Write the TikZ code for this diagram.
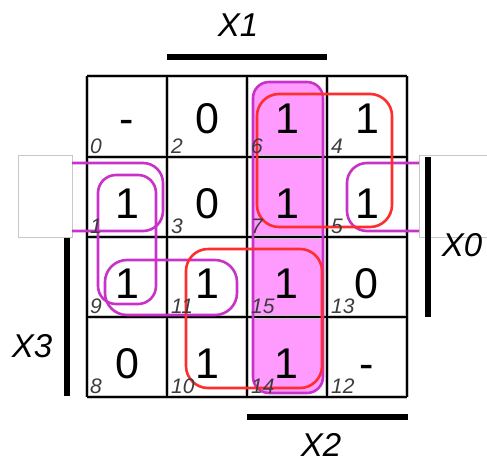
\documentclass[tikz,border=0pt]{standalone}
\usepackage{fontspec}
\setmainfont{Liberation Sans}
\definecolor{magline}{RGB}{200,50,200}
\definecolor{magfill}{RGB}{255,155,255}
\definecolor{redline}{RGB}{255,45,45}
\definecolor{idxgray}{RGB}{60,60,60}
\definecolor{boxgray}{RGB}{200,200,200}
\begin{document}
\begin{tikzpicture}[x=1pt,y=-1pt,
  digit/.style={font=\fontsize{43}{43}\selectfont, inner sep=0pt, anchor=base},
  idx/.style={font=\fontsize{21}{21}\selectfont\itshape, text=idxgray, inner sep=0pt, anchor=base west},
  lbl/.style={font=\fontsize{33}{33}\selectfont\itshape, inner sep=0pt},
  bar/.style={line width=5.5pt},
  gridshade/.style={line width=3.2pt, gray!45},
  gridline/.style={line width=1.3pt, black},
  maggrp/.style={line width=2.6pt, magline},
  redgrp/.style={line width=2.6pt, redline},
  wrapbox/.style={line width=0.9pt, boxgray}]
\useasboundingbox (0,0) rectangle (487,464);
% filled column group
\fill[magfill, rounded corners=16pt] (253,82) rectangle (323,393);
% wrap-around boxes
\draw[wrapbox] (18,155) rectangle (72,237);
\draw[wrapbox] (490,155) -- (419,155) -- (419,237) -- (490,237);
% grid
\foreach \x in {87,167,247,327,407} \draw[gridshade] (\x,76) -- (\x,397);
\foreach \y in {76,157,237,317,397} \draw[gridshade] (87,\y) -- (407,\y);
\foreach \x in {87,167,247,327,407} \draw[gridline] (\x,76) -- (\x,397);
\foreach \y in {76,157,237,317,397} \draw[gridline] (87,\y) -- (407,\y);
% magenta groups
\draw[maggrp, rounded corners=16pt] (253,82) rectangle (323,393);
\draw[maggrp, rounded corners=18pt] (98,175) rectangle (156,304);
\draw[maggrp, rounded corners=22pt] (105,260) rectangle (237,315);
\draw[maggrp, rounded corners=20pt] (72,163) -- (163,163) -- (163,231) -- (72,231);
\draw[maggrp, rounded corners=20pt] (419,163) -- (347,163) -- (347,231) -- (419,231);
% red groups
\draw[redgrp, rounded corners=22pt] (257,94) rectangle (392,227);
\draw[redgrp, rounded corners=22pt] (186,249) rectangle (322,388);
% variable bars
\draw[bar] (167,57) -- (327,57);
\draw[bar] (247,417) -- (408,417);
\draw[bar] (428,157) -- (428,317);
\draw[bar] (67,238) -- (67,396);
\node[lbl] (x1) at (238,25) {X1};
\node[lbl] (x0) at (462,245) {X0};
\node[lbl] (x2) at (321,445) {X2};
\node[lbl] (x3) at (32,346) {X3};
% cell values
\node[digit] (v0) at (127,133) {-};
\node[digit] (v2) at (207,133) {0};
\node[digit] (v6) at (287,133) {1};
\node[digit] (v4) at (367,133) {1};
\node[digit] (v1) at (127,218) {1};
\node[digit] (v3) at (207,218) {0};
\node[digit] (v7) at (287,218) {1};
\node[digit] (v5) at (367,218) {1};
\node[digit] (v9) at (127,298) {1};
\node[digit] (v11) at (207,298) {1};
\node[digit] (v15) at (286,298) {1};
\node[digit] (v13) at (366,298) {0};
\node[digit] (v8) at (127,378) {0};
\node[digit] (v10) at (207,378) {1};
\node[digit] (v14) at (286,378) {1};
\node[digit] (v12) at (367,378) {-};
% cell indices
\node[idx] (i0) at (90,153) {0};
\node[idx] (i2) at (171,153) {2};
\node[idx] (i6) at (251,153) {6};
\node[idx] (i4) at (331,153) {4};
\node[idx] (i1) at (90,233) {1};
\node[idx] (i3) at (171,233) {3};
\node[idx] (i7) at (251,233) {7};
\node[idx] (i5) at (331,233) {5};
\node[idx] (i9) at (90,313) {9};
\node[idx] (i11) at (171,313) {11};
\node[idx] (i15) at (251,313) {15};
\node[idx] (i13) at (331,313) {13};
\node[idx] (i8) at (90,393) {8};
\node[idx] (i10) at (171,393) {10};
\node[idx] (i14) at (251,393) {14};
\node[idx] (i12) at (331,393) {12};
\end{tikzpicture}
\end{document}
